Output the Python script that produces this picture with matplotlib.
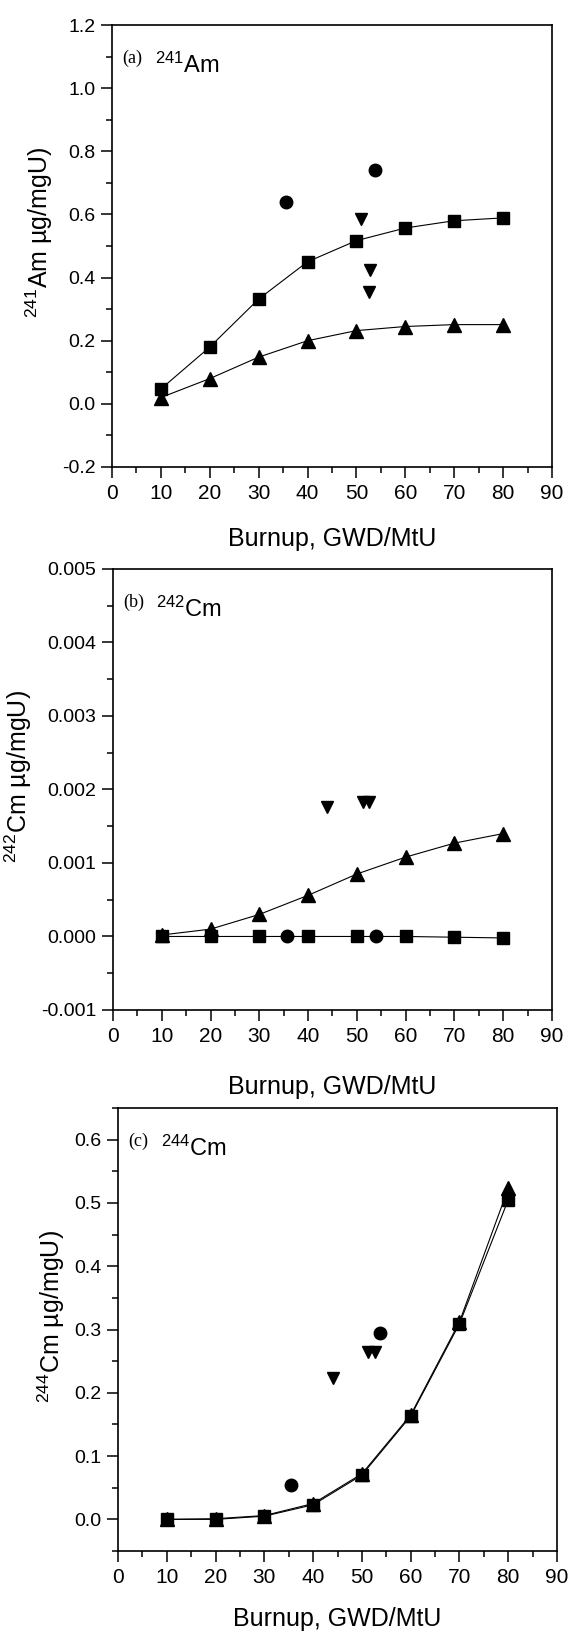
import numpy as np
import matplotlib
matplotlib.use("Agg")
import matplotlib.pyplot as plt
from matplotlib.ticker import MultipleLocator, FormatStrFormatter

plt.rcParams['font.family'] = ['Liberation Sans', 'DejaVu Sans']
plt.rcParams['mathtext.fontset'] = 'custom'
plt.rcParams['mathtext.rm'] = 'Liberation Sans'
plt.rcParams['mathtext.it'] = 'Liberation Sans'
plt.rcParams['axes.unicode_minus'] = False

burnup = [10, 20, 30, 40, 50, 60, 70, 80]

# (a) 241Am
am_sq = [0.047, 0.180, 0.332, 0.450, 0.517, 0.557, 0.580, 0.589]
am_tri = [0.020, 0.080, 0.148, 0.200, 0.232, 0.245, 0.251, 0.251]
am_circ_x = [35.5, 53.8]
am_circ_y = [0.640, 0.742]
am_dn_x = [51.0, 52.7, 52.5]
am_dn_y = [0.584, 0.423, 0.354]

# (b) 242Cm
cm2_sq = [0.0, 0.0, 0.0, 0.0, 0.0, 0.0, -0.00001, -0.00002]
cm2_tri = [0.00002, 0.00010, 0.00030, 0.00056, 0.00085, 0.00108, 0.00127, 0.00140]
cm2_circ_x = [35.6, 54.0]
cm2_circ_y = [0.0, 0.0]
cm2_dn_x = [43.9, 51.3, 52.5]
cm2_dn_y = [0.00176, 0.00183, 0.00183]

# (c) 244Cm
cm4_sq = [0.0, 0.0, 0.005, 0.023, 0.070, 0.163, 0.309, 0.505]
cm4_tri = [0.0, 0.001, 0.006, 0.025, 0.072, 0.165, 0.312, 0.523]
cm4_circ_x = [35.5, 53.8]
cm4_circ_y = [0.054, 0.295]
cm4_dn_x = [44.0, 51.2, 52.6]
cm4_dn_y = [0.224, 0.264, 0.265]

panels = [
    dict(sq=am_sq, tri=am_tri, cx=am_circ_x, cy=am_circ_y, dx=am_dn_x, dy=am_dn_y,
         ylim=(-0.2, 1.2), major=0.2, fmt='%.1f', tag='(a)', iso=r'$^{241}$Am',
         ylabel=r'$^{241}$Am µg/mgU)', pos=[0.1961, 0.7142, 0.7706, 0.2705], xl=-0.136),
    dict(sq=cm2_sq, tri=cm2_tri, cx=cm2_circ_x, cy=cm2_circ_y, dx=cm2_dn_x, dy=cm2_dn_y,
         ylim=(-0.001, 0.005), major=0.001, fmt='%.3f', tag='(b)', iso=r'$^{242}$Cm',
         ylabel=r'$^{242}$Cm µg/mgU)', pos=[0.1979, 0.3819, 0.7688, 0.2699], xl=-0.147),
    dict(sq=cm4_sq, tri=cm4_tri, cx=cm4_circ_x, cy=cm4_circ_y, dx=cm4_dn_x, dy=cm4_dn_y,
         ylim=(-0.05, 0.65), major=0.1, fmt='%.1f', tag='(c)', iso=r'$^{244}$Cm',
         ylabel=r'$^{244}$Cm µg/mgU)', pos=[0.2067, 0.0508, 0.7688, 0.2711], xl=-0.127),
]

fig = plt.figure(figsize=(5.71, 16.34), dpi=100)

for p in panels:
    ax = fig.add_axes(p['pos'])
    ax.plot(burnup, p['sq'], color='black', lw=0.8, marker='s', ms=8, zorder=3)
    ax.plot(burnup, p['tri'], color='black', lw=0.8, marker='^', ms=9.5, zorder=3)
    ax.plot(p['cx'], p['cy'], ls='none', color='black', marker='o', ms=9, zorder=4)
    ax.plot(p['dx'], p['dy'], ls='none', color='black', marker='v', ms=9, zorder=4)

    ax.set_xlim(0, 90)
    ax.set_ylim(*p['ylim'])
    ax.xaxis.set_major_locator(MultipleLocator(10))
    ax.xaxis.set_minor_locator(MultipleLocator(5))
    ax.yaxis.set_major_locator(MultipleLocator(p['major']))
    ax.yaxis.set_minor_locator(MultipleLocator(p['major'] / 2))
    ax.yaxis.set_major_formatter(FormatStrFormatter(p['fmt']))
    ax.tick_params(which='both', direction='out', top=False, right=False, width=1.1)
    ax.tick_params(which='major', length=8)
    ax.tick_params(which='minor', length=4)
    ax.tick_params(axis='x', labelsize=15, pad=4)
    ax.tick_params(axis='y', labelsize=14, pad=4)
    for s in ax.spines.values():
        s.set_linewidth(1.2)

    ax.set_xlabel('Burnup, GWD/MtU', fontsize=18, va='top')
    ax.xaxis.set_label_coords(0.5, p['xl'])
    ax.set_ylabel(p['ylabel'], fontsize=18, labelpad=5)
    ax.yaxis.label.set_y(0.53)

    ax.text(0.023, 0.914, p['tag'], transform=ax.transAxes, fontsize=13,
            family='Liberation Serif', va='baseline')
    ax.text(0.098, 0.891, p['iso'], transform=ax.transAxes, fontsize=17,
            va='baseline')

fig.savefig('out.png', dpi=100)
